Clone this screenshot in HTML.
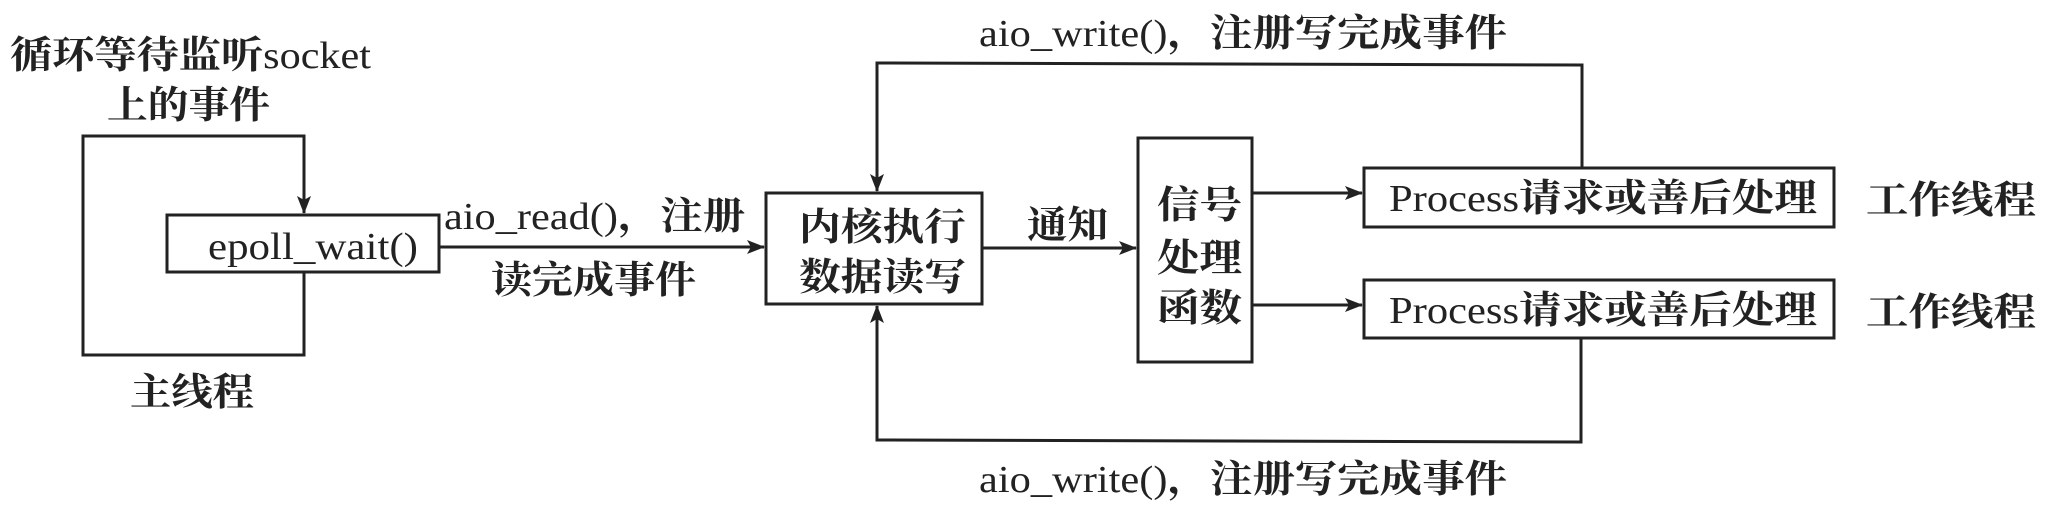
<!DOCTYPE html>
<html><head><meta charset="utf-8"><style>
html,body{margin:0;padding:0;background:#fff;}
svg{display:block;}
text{font-family:"Liberation Serif","Noto Serif CJK SC",serif;font-size:38px;fill:#222;font-weight:400;}
tspan.c{font-weight:700;}
</style></head><body>
<svg width="2045" height="506" viewBox="0 0 2045 506" xmlns="http://www.w3.org/2000/svg">
<defs>
<marker id="a" markerWidth="18" markerHeight="14" refX="17" refY="7" orient="auto" markerUnits="userSpaceOnUse">
<path d="M0,0 L18,7 L0,14 L4,7 z" fill="#222"/>
</marker>
</defs>
<g stroke="#222" stroke-width="3" fill="none">
<polyline points="304,272 304,355 83,355 83,136 304,136 304,213" marker-end="url(#a)"/>
<rect x="167" y="215" width="272" height="57"/>
<line x1="439" y1="247" x2="764" y2="247" marker-end="url(#a)"/>
<rect x="766" y="193" width="216" height="111"/>
<line x1="982" y1="248" x2="1136" y2="248" marker-end="url(#a)"/>
<rect x="1138" y="138" width="114" height="224"/>
<line x1="1252" y1="193" x2="1362" y2="193" marker-end="url(#a)"/>
<line x1="1252" y1="305" x2="1362" y2="305" marker-end="url(#a)"/>
<rect x="1364" y="168" width="470" height="59"/>
<rect x="1364" y="280" width="470" height="58"/>
<polyline points="1582,168 1582,65 877,63 877,191" marker-end="url(#a)"/>
<polyline points="1581,338 1581,442 877,440 877,306" marker-end="url(#a)"/>
</g>
<text x="10" y="68" textLength="361" lengthAdjust="spacingAndGlyphs"><tspan class="c">循环等待监听</tspan>socket</text>
<text x="107" y="118" textLength="163" lengthAdjust="spacingAndGlyphs"><tspan class="c">上的事件</tspan></text>
<text x="208" y="259" textLength="210" lengthAdjust="spacingAndGlyphs">epoll_wait()</text>
<text x="444" y="229" textLength="301" lengthAdjust="spacingAndGlyphs">aio_read()<tspan class="c">，注册</tspan></text>
<text x="491" y="293" textLength="205" lengthAdjust="spacingAndGlyphs"><tspan class="c">读完成事件</tspan></text>
<text x="799" y="240" textLength="167" lengthAdjust="spacingAndGlyphs"><tspan class="c">内核执行</tspan></text>
<text x="799" y="290" textLength="167" lengthAdjust="spacingAndGlyphs"><tspan class="c">数据读写</tspan></text>
<text x="130" y="405" textLength="124" lengthAdjust="spacingAndGlyphs"><tspan class="c">主线程</tspan></text>
<text x="979" y="46" textLength="528" lengthAdjust="spacingAndGlyphs">aio_write()<tspan class="c">，注册写完成事件</tspan></text>
<text x="979" y="492" textLength="528" lengthAdjust="spacingAndGlyphs">aio_write()<tspan class="c">，注册写完成事件</tspan></text>
<text x="1027" y="238" textLength="81" lengthAdjust="spacingAndGlyphs"><tspan class="c">通知</tspan></text>
<text x="1157" y="218" textLength="85" lengthAdjust="spacingAndGlyphs"><tspan class="c">信号</tspan></text>
<text x="1157" y="271" textLength="85" lengthAdjust="spacingAndGlyphs"><tspan class="c">处理</tspan></text>
<text x="1157" y="321" textLength="85" lengthAdjust="spacingAndGlyphs"><tspan class="c">函数</tspan></text>
<text x="1389" y="211" textLength="428" lengthAdjust="spacingAndGlyphs">Process<tspan class="c">请求或善后处理</tspan></text>
<text x="1389" y="323" textLength="428" lengthAdjust="spacingAndGlyphs">Process<tspan class="c">请求或善后处理</tspan></text>
<text x="1866" y="213" textLength="170" lengthAdjust="spacingAndGlyphs"><tspan class="c">工作线程</tspan></text>
<text x="1866" y="325" textLength="170" lengthAdjust="spacingAndGlyphs"><tspan class="c">工作线程</tspan></text>
</svg>
</body></html>
